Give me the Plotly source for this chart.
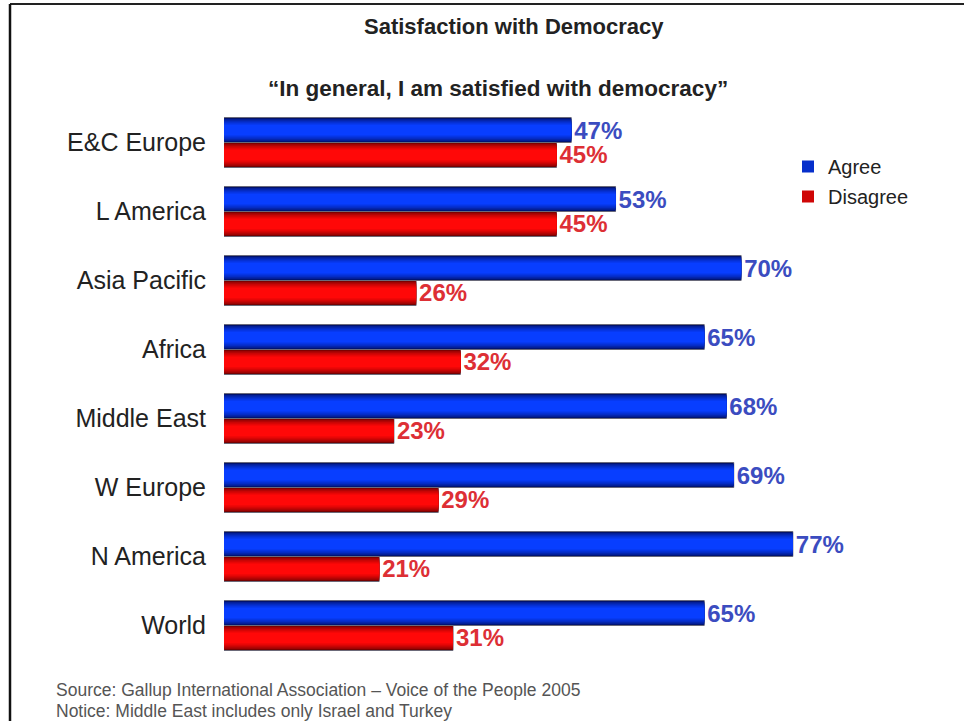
import plotly.graph_objects as go

# Survey results: share of respondents agreeing / disagreeing, by region
regions = ["E&C Europe", "L America", "Asia Pacific", "Africa",
           "Middle East", "W Europe", "N America", "World"]
agree = [47, 53, 70, 65, 68, 69, 77, 65]
disagree = [45, 45, 26, 32, 23, 29, 21, 31]

series = [
    ("Agree", agree, (0, 8, 72), (8, 62, 255), "#3b4cc0", -0.362),
    ("Disagree", disagree, (85, 0, 0), (255, 8, 8), "#dd2f35", 0.0),
]

# figure geometry (pixels)
FIG_W, FIG_H = 964, 721
L, T, R, B = 224, 108, 149, 61
PW, PH = FIG_W - L - R, FIG_H - T - B


def px(x):
    return (x - L) / PW


def py(y):
    return (FIG_H - B - y) / PH


def mix(c0, c1, t):
    return "rgb(%d,%d,%d)" % tuple(round(a + (b - a) * t) for a, b in zip(c0, c1))


N_LAYERS = 12
BAND = 0.362

fig = go.Figure()
for name, vals, edge, centre, tcol, off in series:
    mid = off + BAND / 2
    for k in range(N_LAYERS):
        frac = 1 - k * 0.055
        w = BAND * frac
        t = (k / (N_LAYERS - 1)) ** 0.55
        outer = k == 0
        fig.add_trace(go.Bar(
            y=regions, x=vals, orientation="h",
            width=w, offset=mid - w / 2,
            marker=dict(color=mix(edge, centre, t),
                        line=dict(color="#6a6a7a", width=1 if outer else 0)),
            text=[f"{v}%" for v in vals] if outer else None,
            textposition="outside" if outer else "none",
            textfont=dict(family="Liberation Sans, Arial", size=24, color=tcol,
                          weight="bold"),
            cliponaxis=False, constraintext="none",
            name=name, legendgroup=name,
            showlegend=(k == 6), hoverinfo="skip",
        ))

fig.update_layout(
    width=FIG_W, height=FIG_H,
    margin=dict(l=L, r=R, t=T, b=B),
    barmode="overlay",
    paper_bgcolor="white", plot_bgcolor="white",
    font=dict(family="Liberation Sans, Arial", color="#222"),
    xaxis=dict(range=[0, 80], visible=False, fixedrange=True),
    yaxis=dict(categoryorder="array", categoryarray=regions,
               range=[len(regions) - 0.5, -0.5],
               showgrid=False, zeroline=False, showline=False, ticks="",
               ticklabelstandoff=17,
               tickfont=dict(size=25, color="#222")),
    legend=dict(x=px(788), y=py(147), xanchor="left", yanchor="top",
                font=dict(size=20, color="#222"), itemwidth=30,
                bgcolor="rgba(0,0,0,0)", tracegroupgap=1),
    annotations=[
        dict(text="<b>Satisfaction with Democracy</b>", x=px(514), y=py(26),
             xref="paper", yref="paper", showarrow=False,
             xanchor="center", yanchor="middle", font=dict(size=22, color="#222")),
        dict(text="<b>\u201cIn general, I am satisfied with democracy\u201d</b>",
             x=px(498), y=py(88), xref="paper", yref="paper", showarrow=False,
             xanchor="center", yanchor="middle", font=dict(size=22.5, color="#222")),
        dict(text="Source: Gallup International Association \u2013 Voice of the People 2005",
             x=px(54), y=py(690), xref="paper", yref="paper", showarrow=False,
             xanchor="left", yanchor="middle", font=dict(size=17.5, color="#555")),
        dict(text="Notice: Middle East includes only Israel and Turkey",
             x=px(54), y=py(711), xref="paper", yref="paper", showarrow=False,
             xanchor="left", yanchor="middle", font=dict(size=17.5, color="#555")),
    ],
    shapes=[
        dict(type="line", xref="paper", yref="paper",
             x0=px(10), x1=px(FIG_W), y0=py(4), y1=py(4),
             line=dict(color="#222", width=2)),
        dict(type="line", xref="paper", yref="paper",
             x0=px(10), x1=px(10), y0=py(4), y1=py(FIG_H),
             line=dict(color="#111", width=2.5)),
    ],
)

fig.write_html("out.html")
